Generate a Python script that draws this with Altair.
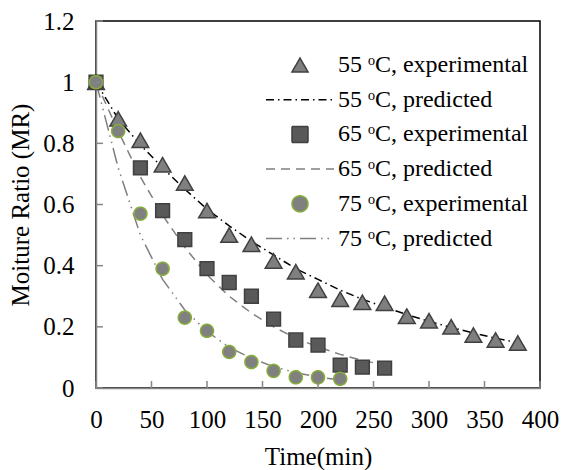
import altair as alt
import pandas as pd

# Drying times (min)
time_55 = [0, 20, 40, 60, 80, 100, 120, 140, 160, 180, 200, 220, 240, 260, 280, 300, 320, 340, 360, 380]
time_65_exp = [0, 40, 60, 80, 100, 120, 140, 160, 180, 200, 220, 240, 260]
time_65_pred = [0, 20, 40, 60, 80, 100, 120, 140, 160, 180, 200, 220, 240, 260]
time_75 = [0, 20, 40, 60, 80, 100, 120, 140, 160, 180, 200, 220]

# Moisture ratio, experimental and model-predicted
mr_55_exp = [1, 0.88, 0.81, 0.73, 0.67, 0.58, 0.50, 0.47, 0.415, 0.38, 0.32, 0.29, 0.28, 0.277, 0.235, 0.22, 0.20, 0.173, 0.157, 0.147]
mr_55_pred = [1, 0.88, 0.795, 0.72, 0.65, 0.585, 0.53, 0.48, 0.435, 0.39, 0.355, 0.32, 0.29, 0.265, 0.24, 0.218, 0.198, 0.18, 0.163, 0.148]
mr_65_exp = [1, 0.72, 0.58, 0.485, 0.39, 0.345, 0.30, 0.225, 0.157, 0.14, 0.075, 0.068, 0.065]
mr_65_pred = [1, 0.84, 0.69, 0.565, 0.46, 0.37, 0.30, 0.245, 0.20, 0.163, 0.134, 0.11, 0.09, 0.075]
mr_75_exp = [1, 0.84, 0.57, 0.39, 0.23, 0.187, 0.118, 0.085, 0.056, 0.035, 0.035, 0.03]
mr_75_pred = [1, 0.72, 0.50, 0.355, 0.255, 0.185, 0.133, 0.097, 0.07, 0.05, 0.036, 0.026]

series_names = [
    "55 ᵒC, experimental",
    "55 ᵒC, predicted",
    "65 ᵒC, experimental",
    "65 ᵒC, predicted",
    "75 ᵒC, experimental",
    "75 ᵒC, predicted",
]

x_ticks = [0, 50, 100, 150, 200, 250, 300, 350, 400]
y_ticks = [0, 0.2, 0.4, 0.6, 0.8, 1, 1.2]

FONT = "Liberation Serif"
AXIS_GREY = "#868686"
LINE_PATH = "M-4.25,0H4.25"


def frame(times, values, name):
    return pd.DataFrame({"time": times, "mr": values, "series": name})


exp_df = pd.concat([
    frame(time_55, mr_55_exp, series_names[0]),
    frame(time_65_exp, mr_65_exp, series_names[2]),
    frame(time_75, mr_75_exp, series_names[4]),
])
pred_df = pd.concat([
    frame(time_55, mr_55_pred, series_names[1]),
    frame(time_65_pred, mr_65_pred, series_names[3]),
    frame(time_75, mr_75_pred, series_names[5]),
])

x_scale = alt.Scale(domain=[0, 400], nice=False, zero=False)
y_scale = alt.Scale(domain=[0, 1.2], nice=False)

x_enc = alt.X("time:Q", scale=x_scale, title="Time(min)",
              axis=alt.Axis(values=x_ticks, ticks=False, tickSize=0, grid=False,
                            labelFlush=False, labelOverlap=False,
                            labelPadding=19, titlePadding=12))
y_enc = alt.Y("mr:Q", scale=y_scale, title="Moiture Ratio (MR)",
              axis=alt.Axis(values=y_ticks, format=".2~f", ticks=False, tickSize=0, grid=False,
                            labelFlush=False, labelOverlap=False,
                            labelPadding=22, titlePadding=9))

legend = alt.Legend(
    title=None, orient="none", legendX=192, legendY=32, padding=0,
    symbolSize=256, symbolStrokeWidth=1.5, labelOffset=26, rowPadding=10.7,
    labelFontSize=24, labelFont=FONT, labelColor="black", symbolOpacity=1,
    labelLimit=0,
)

shape_scale = alt.Scale(domain=series_names,
                        range=["triangle-up", LINE_PATH, "square", LINE_PATH, "circle", LINE_PATH])
fill_scale = alt.Scale(domain=series_names,
                       range=["#7f7f7f", "transparent", "#595959", "transparent", "#808080", "transparent"])
stroke_scale = alt.Scale(domain=series_names,
                         range=["#404040", "#000000", "#404040", "#7f7f7f", "#86ad3a", "#7f7f7f"])
dash_scale = alt.Scale(domain=series_names,
                       range=[[1, 0], [8, 4, 1.5, 4], [1, 0], [9, 6], [1, 0], [16, 5, 1.5, 5, 1.5, 5]])

series_enc = dict(
    shape=alt.Shape("series:N", scale=shape_scale, legend=legend),
    fill=alt.Fill("series:N", scale=fill_scale, legend=legend),
    stroke=alt.Stroke("series:N", scale=stroke_scale, legend=legend),
    strokeDash=alt.StrokeDash("series:N", scale=dash_scale, legend=legend),
)

# Model curves
lines = alt.Chart(pred_df).mark_line(strokeWidth=1.5).encode(
    x=x_enc, y=y_enc,
    stroke=series_enc["stroke"], strokeDash=series_enc["strokeDash"],
)


def markers(name, size):
    return alt.Chart(exp_df).transform_filter(alt.datum.series == name).mark_point(
        filled=True, opacity=1, fillOpacity=1, strokeWidth=1.5, size=size
    ).encode(x=x_enc, y=y_enc, **series_enc)


pts_55 = markers(series_names[0], 280)
pts_65 = markers(series_names[2], 190)
pts_75 = markers(series_names[4], 170)

# Inward tick marks
y_tick_rules = alt.Chart(pd.DataFrame({"mr": y_ticks})).mark_rule(
    color=AXIS_GREY, strokeWidth=1.5
).encode(y=y_enc, x=alt.value(0), x2=alt.value(7))
x_tick_rules = alt.Chart(pd.DataFrame({"time": x_ticks})).mark_rule(
    color=AXIS_GREY, strokeWidth=1.5
).encode(x=x_enc, y=alt.value(360), y2=alt.value(367))

chart = alt.layer(
    lines, pts_55, pts_65, pts_75, y_tick_rules, x_tick_rules
).properties(
    width=444, height=367,
    background="white",
    autosize=alt.AutoSizeParams(type="none"),
    padding={"left": 96, "top": 21, "right": 21, "bottom": 82},
).configure_view(
    stroke="black", strokeWidth=1.5
).configure_axis(
    labelFont=FONT, titleFont=FONT, labelFontSize=25, titleFontSize=25,
    labelColor="black", titleColor="black", titleFontWeight="normal",
    domainColor=AXIS_GREY, domainWidth=1.5,
)

chart.save("out.html", embed_options={"renderer": "svg", "actions": False})
